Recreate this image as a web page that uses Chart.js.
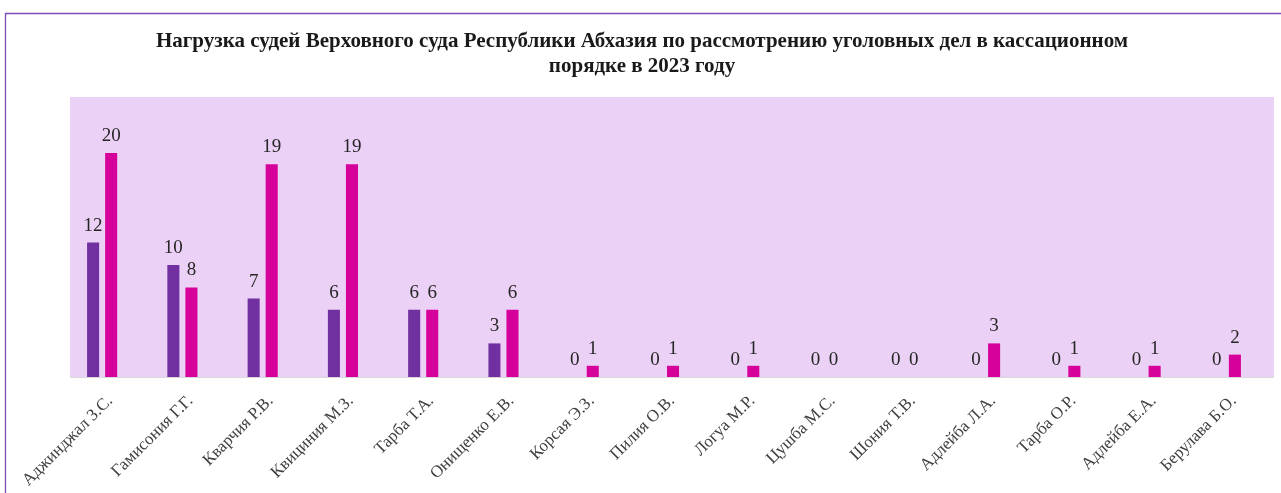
<!DOCTYPE html>
<html>
<head>
<meta charset="utf-8">
<script src="https://cdn.jsdelivr.net/npm/chart.js@4"></script>
<style>
  html, body { margin: 0; padding: 0; background: #ffffff; }
  #wrap { width: 1281px; height: 493px; position: relative; }
</style>
</head>
<body>
<div id="wrap"><canvas id="c" width="1281" height="493"></canvas></div>
<script>
const titleLines = [
  "Нагрузка судей Верховного суда Республики Абхазия по рассмотрению уголовных дел в кассационном",
  "порядке в 2023 году"
];
const categories = [
  "Аджинджал З.С.", "Гамисония Г.Г.", "Кварчия Р.В.", "Квициния М.З.", "Тарба Т.А.",
  "Онищенко Е.В.", "Корсая Э.З.", "Пилия О.В.", "Логуа М.Р.", "Цушба М.С.",
  "Шония Т.В.", "Адлейба Л.А.", "Тарба О.Р.", "Адлейба Е.А.", "Берулава Б.О."
];
const seriesPurple = [12, 10, 7, 6, 6, 3, 0, 0, 0, 0, 0, 0, 0, 0, 0];
const seriesPink   = [20, 8, 19, 19, 6, 6, 1, 1, 1, 0, 0, 3, 1, 1, 2];
const yMin = 0;
const yMax = 25;

const SERIF = '"Liberation Serif", "Times New Roman", serif';

const frameAndBg = {
  id: 'frameAndBg',
  beforeDraw(chart) {
    const ctx = chart.ctx;
    const a = chart.chartArea;
    ctx.save();
    ctx.strokeStyle = '#7b4bb3';
    ctx.lineWidth = 1.3;
    ctx.beginPath();
    ctx.moveTo(5.5, 493);
    ctx.lineTo(5.5, 13.5);
    ctx.lineTo(1281, 13.5);
    ctx.stroke();
    ctx.fillStyle = '#ebd1f5';
    ctx.fillRect(a.left + 8, a.top, a.right - a.left, a.bottom - a.top);
    ctx.strokeStyle = '#d9d9d9';
    ctx.lineWidth = 1;
    ctx.beginPath();
    ctx.moveTo(a.left + 8, a.bottom + 0.5);
    ctx.lineTo(a.right + 8, a.bottom + 0.5);
    ctx.stroke();
    // title
    ctx.fillStyle = '#1a1a1a';
    ctx.font = 'bold 21px ' + SERIF;
    ctx.textAlign = 'center';
    ctx.textBaseline = 'alphabetic';
    titleLines.forEach((t, i) => ctx.fillText(t, 642, 47 + i * 24.5));
    ctx.restore();
  }
};

const valueLabels = {
  id: 'valueLabels',
  afterDatasetsDraw(chart) {
    const ctx = chart.ctx;
    ctx.save();
    ctx.font = '19px ' + SERIF;
    ctx.fillStyle = '#262626';
    ctx.textAlign = 'center';
    ctx.textBaseline = 'alphabetic';
    chart.data.datasets.forEach((ds, i) => {
      const meta = chart.getDatasetMeta(i);
      meta.data.forEach((bar, j) => {
        ctx.fillText(String(ds.data[j]), bar.x, bar.y - 12);
      });
    });
    ctx.restore();
  }
};

new Chart(document.getElementById('c'), {
  type: 'bar',
  data: {
    labels: categories,
    datasets: [
      {
        label: 'A',
        data: seriesPurple,
        backgroundColor: '#7030a0',
        categoryPercentage: 0.45,
        barPercentage: 0.667
      },
      {
        label: 'B',
        data: seriesPink,
        backgroundColor: '#d6009a',
        categoryPercentage: 0.45,
        barPercentage: 0.667
      }
    ]
  },
  options: {
    responsive: false,
    animation: false,
    layout: { padding: { left: 62, right: 15, top: 97, bottom: 0 } },
    plugins: {
      legend: { display: false },
      tooltip: { enabled: false },
      title: { display: false }
    },
    scales: {
      x: {
        grid: { display: false, drawTicks: false },
        border: { display: false },
        ticks: {
          color: '#404040',
          font: { family: SERIF, size: 17 },
          minRotation: 45,
          maxRotation: 45,
          autoSkip: false,
          padding: 14,
          labelOffset: 8
        },
        afterFit(scale) { scale.height = 116; }
      },
      y: {
        display: false,
        min: yMin,
        max: yMax
      }
    }
  },
  plugins: [frameAndBg, valueLabels]
});
</script>
</body>
</html>
